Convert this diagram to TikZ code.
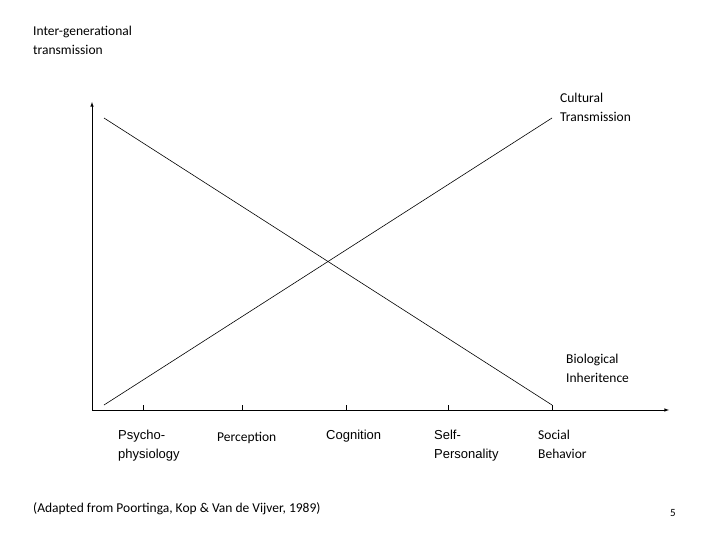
\documentclass[tikz,border=0pt]{standalone}
\usepackage{fontspec}
\setmainfont{Carlito}
\newfontfamily\arial{Liberation Sans}
\begin{document}
\begin{tikzpicture}[x=1pt,y=-1pt,
  lbl/.style={anchor=north west,align=left,inner sep=0pt,font=\fontsize{13.5}{19}\selectfont},
  albl/.style={anchor=north west,align=left,inner sep=0pt,font=\arial\fontsize{13}{19}\selectfont},
  ln/.style={line width=0.6pt}]
\useasboundingbox (0,0) rectangle (720,540);
\coordinate (O) at (92,410);
\coordinate (Y) at (92,102);
\coordinate (X) at (669,410);
\draw[ln,-latex] (O) -- (Y);
\draw[ln,-latex] (O) -- (X);
\foreach \x/\n in {143/t1,242/t2,346/t3,448/t4,552/t5}{
  \coordinate (\n) at (\x,410);
  \draw[ln] (\n) -- ++(0,-5);
}
\coordinate (b1) at (104,118); \coordinate (b2) at (552,405);
\coordinate (c1) at (104,405); \coordinate (c2) at (552,118);
\draw[ln] (b1) -- (b2);
\draw[ln] (c1) -- (c2);
\node[lbl] (ig) at (33,26) {Inter-generational\\transmission};
\node[lbl] (ct) at (560,93) {Cultural\\Transmission};
\node[lbl] (bi) at (566,354) {Biological\\Inheritence};
\node[albl] (l1) at (118,430) {Psycho-\\physiology};
\node[lbl] (l2) at (217,432) {Perception};
\node[albl] (l3) at (326,430) {Cognition};
\node[albl] (l4) at (434,430) {Self-\\Personality};
\node[lbl] (l5) at (538,430) {Social\\Behavior};
\node[lbl] (src) at (33,502) {(Adapted from Poortinga, Kop \& Van de Vijver, 1989)};
\node[anchor=north west,inner sep=0pt,font=\fontsize{11}{13}\selectfont] (pg) at (670,509) {5};
\end{tikzpicture}
\end{document}
